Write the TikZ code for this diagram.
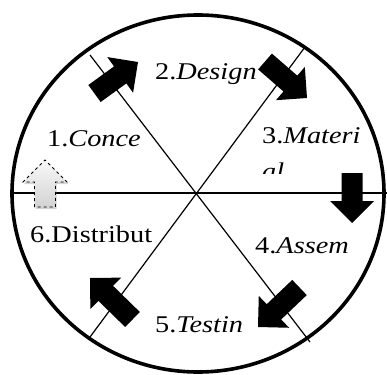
\documentclass[tikz,border=0pt]{standalone}
\usepackage{fontspec}
\setmainfont{Liberation Serif}
\usetikzlibrary{calc,shadows}
\tikzset{
 spoke/.style={line width=1.2pt},
 rim/.style={line width=3.6pt},
 blk/.style={fill=black},
 ghost/.style={draw=black, dashed, line width=0.9pt, top color=gray!5, bottom color=gray!35,
   drop shadow={opacity=0.35, shadow xshift=1pt, shadow yshift=-2pt}},
 lbl/.style={anchor=base west, inner sep=0pt, font=\fontsize{24}{28}\selectfont}
}
\newcommand\stx[1]{\scalebox{1.18}[1]{#1}}
\newcommand\blockarr[3]{%
  \coordinate (bT) at #2; \coordinate (bP) at #3;
  \coordinate (bH) at ($(bP)!22pt!(bT)$);
  \path[#1] ($(bT)!10.5pt!90:(bP)$) -- ($(bH)!10.5pt!90:(bP)$) -- ($(bH)!22pt!90:(bP)$) -- (bP)
    -- ($(bH)!22pt!-90:(bP)$) -- ($(bH)!10.5pt!-90:(bP)$) -- ($(bT)!10.5pt!-90:(bP)$) -- cycle;
}
\begin{document}
\begin{tikzpicture}[x=1pt,y=-1pt]
\useasboundingbox (0,0) rectangle (387,374);
\clip (0,0) rectangle (387,374);
\coordinate (O) at (196,193);
\coordinate (hl) at (12,193); \coordinate (hr) at (387,193);
\coordinate (d1a) at (90,55); \coordinate (d1b) at (310,342);
\coordinate (d2a) at (305,47); \coordinate (d2b) at (90,337);
\draw[spoke] (hl) -- (hr);
\draw[spoke] (d1a) -- (d1b);
\draw[spoke] (d2a) -- (d2b);
\draw[rim] (198,193.5) ellipse [x radius=186, y radius=178.5];
% arrows
\blockarr{blk}{(94.5,93.5)}{(138,62)}
\blockarr{blk}{(265,61.5)}{(307,98)}
\blockarr{blk}{(352,173)}{(352,223)}
\blockarr{blk}{(299.5,287.5)}{(258,327)}
\blockarr{blk}{(132.5,319.5)}{(90,278)}
\blockarr{ghost}{(45,207)}{(45,160)}
% labels
\node[lbl] (t1) at (47,146) {\stx{1.\textit{Conce}}};
\node[lbl] (t2) at (155,80) {\stx{2.\textit{Design}}};
\node[lbl] (t3) at (262,143) {\stx{3.\textit{Materi}}};
\begin{scope}
\clip (250,150) rectangle (387,173.5);
\node[lbl] (t3b) at (262,179) {\stx{\textit{al}}};
\end{scope}
\node[lbl] (t4) at (255,253) {\stx{4.\textit{Assem}}};
\node[lbl] (t5) at (155,332) {\stx{5.\textit{Testin}}};
\node[lbl] (t6) at (30,242) {\stx{6.Distribut}};
\end{tikzpicture}
\end{document}
